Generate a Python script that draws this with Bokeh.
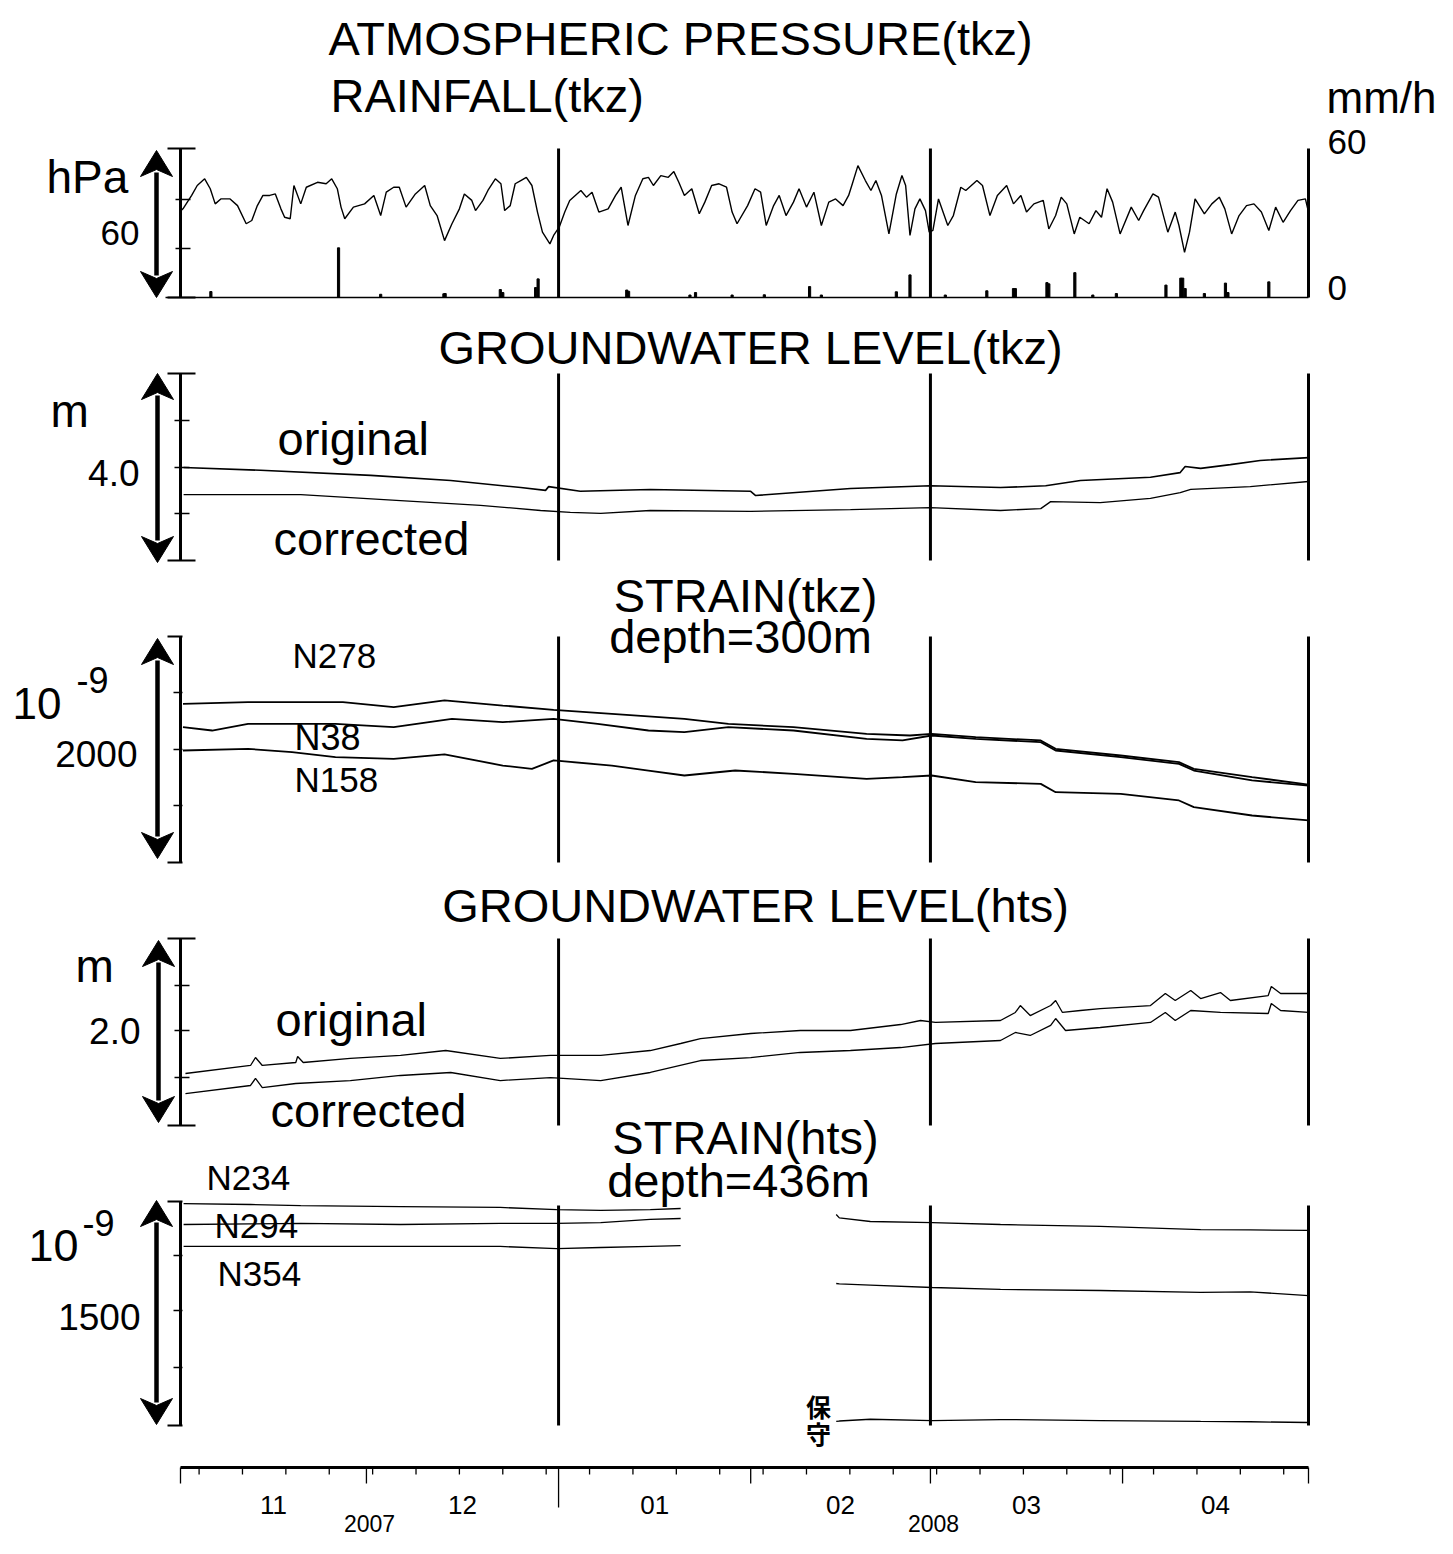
import numpy as np
import pandas as pd
from bokeh.plotting import figure
from bokeh.models import Range1d
from bokeh.core.properties import value
from bokeh.embed import file_html
from bokeh.resources import INLINE

# ---------------- data (days since 2007-11-01) ----------------
pres_days = [0.1, 0.4, 1.8, 2.7, 3.9, 4.8, 5.6, 6.5, 8.0, 9.2, 10.6, 11.5, 12.4, 13.3, 14.4, 15.3, 16.2, 16.8,
             17.7, 18.3, 19.4, 20.3, 22.1, 23.5, 24.4, 25.3, 25.9, 26.5, 27.9, 29.7, 31.2, 32.3, 33.2, 34.4, 35.3,
             36.4, 37.9, 39.4, 40.3, 41.4, 42.6, 43.8, 45.0, 45.8, 47.0, 47.6, 48.8, 49.6, 50.8, 51.7, 52.3, 53.2,
             54.0, 54.9, 55.8, 56.7, 57.6, 58.4, 59.6, 60.2, 61.1, 62.0, 62.8, 63.7, 64.6, 65.5, 66.4, 67.5, 69.0,
             70.2, 71.1, 72.2, 73.4, 74.6, 75.5, 76.3, 77.5, 78.7, 79.6, 80.4, 81.3, 82.5, 83.7, 84.6, 85.7, 86.9,
             88.1, 89.0, 89.8,
             91.5, 92.7, 93.6, 94.5, 95.7, 96.6, 97.7, 98.9, 99.8, 101.0, 102.2, 103.4, 104.6, 105.7, 106.9, 107.8,
             108.4, 109.3, 110.5, 111.4, 112.2, 113.1, 114.3, 115.5, 116.4, 117.0, 117.7, 118.5, 119.3, 120.2, 120.8,
             121.4, 122.3, 123.8, 124.7, 125.9, 126.7, 128.5, 129.4, 130.6, 131.8, 133.3, 134.4, 135.6, 136.5, 137.7,
             139.2, 140.1, 141.2, 142.1, 143.0, 144.2, 145.1, 146.6, 147.7, 148.6, 149.5, 150.4, 151.6, 153.4, 154.6,
             155.4, 156.9, 157.8, 159.3, 160.5, 161.1, 162.0, 162.8, 163.7, 165.2, 166.4, 167.6, 168.5, 169.6, 170.8,
             172.0, 173.2, 174.4, 175.6, 176.7, 177.9, 179.1, 180.3, 181.5, 182.0]
pres_hpa = [1015.0, 1015.7, 1021.1, 1025.1, 1027.8, 1023.8, 1017.7, 1019.7, 1019.7, 1017.0, 1009.7, 1011.0, 1017.0,
            1021.1, 1021.1, 1021.7, 1015.7, 1012.3, 1011.7, 1025.1, 1017.7, 1024.4, 1026.4, 1025.8, 1027.8, 1023.8,
            1016.4, 1011.7, 1016.4, 1017.7, 1021.1, 1013.0, 1022.4, 1024.4, 1024.4, 1016.4, 1021.7, 1025.1, 1017.0,
            1013.0, 1002.9, 1009.7, 1015.7, 1021.7, 1019.1, 1015.0, 1019.1, 1023.1, 1027.8, 1025.8, 1015.0, 1017.0,
            1025.8, 1027.1, 1028.4, 1025.1, 1014.4, 1006.3, 1001.6, 1005.0, 1008.3, 1014.4, 1019.1, 1021.1, 1023.1,
            1020.4, 1022.4, 1014.4, 1015.7, 1021.1, 1024.4, 1009.0, 1021.1, 1027.8, 1028.4, 1025.1, 1029.1, 1028.4,
            1030.7, 1026.4, 1021.1, 1023.8, 1013.7, 1018.4, 1025.1, 1025.8, 1024.4, 1014.4, 1009.7,
            1017.0, 1023.8, 1022.4, 1009.0, 1017.0, 1021.1, 1013.0, 1018.4, 1023.8, 1016.4, 1022.4, 1009.0, 1018.4,
            1019.7, 1017.0, 1021.1, 1025.8, 1033.1, 1027.1, 1023.1, 1027.1, 1021.1, 1005.6, 1021.7, 1029.1, 1025.1,
            1005.0, 1015.7, 1019.7, 1015.0, 1006.3, 1007.0, 1019.7, 1009.0, 1013.0, 1024.4, 1023.1, 1027.1, 1025.1,
            1013.0, 1021.1, 1025.1, 1017.7, 1021.1, 1014.4, 1017.7, 1019.1, 1007.6, 1013.0, 1020.4, 1017.7, 1005.6,
            1012.3, 1009.7, 1015.0, 1012.3, 1023.8, 1018.4, 1005.6, 1016.4, 1011.0, 1015.0, 1021.7, 1020.4, 1006.3,
            1014.4, 1009.0, 998.2, 1006.3, 1019.7, 1013.7, 1017.7, 1020.4, 1015.7, 1005.6, 1013.0, 1017.0, 1017.7,
            1014.4, 1007.0, 1016.4, 1010.3, 1015.0, 1019.1, 1019.7, 1014.4]

rain_days = [4.9, 25.5, 32.3, 42.5, 42.7, 51.6, 52.0, 57.3, 57.7, 72.0, 72.3, 82.2, 83.1, 89.0, 94.2, 101.5, 103.4,
             115.5, 117.7, 123.4, 130.1, 134.4, 134.7, 139.8, 140.1, 144.3, 147.2, 151.0, 159.0, 161.4, 161.7, 162.1,
             165.2, 168.6, 169.0, 175.6]
rain_mm = [2.4, 20.0, 1.3, 1.5, 1.6, 3.2, 2.0, 4.0, 7.5, 3.0, 2.5, 1.0, 2.0, 1.0, 1.1, 4.4, 1.0, 2.3, 9.1, 1.0, 2.7,
           3.6, 3.6, 6.0, 5.5, 10.0, 1.0, 1.6, 5.0, 7.8, 7.8, 3.6, 1.6, 5.8, 2.0, 6.3]

gwt_orig_days = [0.5, 12.9, 30.7, 43.6, 54.9, 58.9, 59.4, 64.5, 75.8, 92.0, 92.8, 108.1, 121.0, 132.3, 139.6, 145.2,
                 156.5, 161.3, 162.1, 164.6, 169.4, 174.2, 182.0]
gwt_orig_m = [1.99, 1.93, 1.82, 1.71, 1.56, 1.50, 1.58, 1.48, 1.52, 1.48, 1.39, 1.54, 1.60, 1.56, 1.60, 1.71, 1.78,
              1.88, 2.01, 1.97, 2.05, 2.14, 2.20]
gwt_corr_days = [0.5, 19.4, 35.5, 48.4, 58.1, 62.9, 67.8, 75.8, 92.0, 108.1, 121.0, 132.3, 138.8, 140.4, 148.4,
                 156.5, 161.3, 163.0, 172.6, 182.0]
gwt_corr_m = [1.41, 1.41, 1.28, 1.18, 1.07, 1.03, 1.01, 1.07, 1.05, 1.09, 1.13, 1.07, 1.11, 1.26, 1.24, 1.33, 1.45,
              1.52, 1.58, 1.69]

n278_days = [0.4, 10.9, 26.2, 34.4, 42.6, 52.0, 60.2, 69.6, 81.3, 88.4, 98.9, 110.7, 117.7, 121.2, 128.3, 138.8,
             141.2, 151.7, 161.1, 163.5, 172.9, 182.0]
n278 = [1404, 1419, 1419, 1375, 1434, 1389, 1351, 1316, 1271, 1227, 1198, 1139, 1124, 1139, 1109, 1080, 1006, 947,
        888, 829, 755, 690]
n38_days = [0.4, 5.1, 10.9, 16.8, 25.0, 34.4, 43.8, 52.0, 60.2, 67.3, 75.5, 81.3, 88.4, 98.9, 110.7, 116.5, 121.2,
            128.3, 138.8, 141.2, 151.7, 161.1, 163.5, 172.9, 182.0]
n38 = [1198, 1168, 1227, 1227, 1227, 1198, 1271, 1242, 1271, 1227, 1168, 1153, 1198, 1168, 1094, 1080, 1124, 1094,
       1065, 991, 932, 873, 814, 726, 681]
n158_days = [0.4, 10.9, 18.0, 25.0, 34.4, 42.6, 52.0, 56.7, 60.2, 69.6, 75.5, 81.3, 89.5, 98.9, 110.7, 116.5, 121.2,
             128.3, 138.8, 141.2, 151.7, 161.1, 163.5, 172.9, 182.0]
n158 = [991, 1006, 976, 932, 917, 956, 858, 829, 903, 858, 814, 770, 814, 785, 740, 755, 770, 711, 696, 622, 608,
        549, 490, 416, 372]

gwh_orig_days = [0.8, 11.3, 12.1, 13.2, 18.6, 18.9, 19.8, 27.4, 35.5, 42.8, 51.6, 59.7, 67.8, 75.8, 80.7, 83.9, 92.0,
                 100.0, 108.1, 116.2, 119.4, 121.8, 132.3, 134.7, 135.5, 137.1, 140.4, 141.2, 142.3, 145.2, 148.4,
                 156.5, 158.9, 160.5, 163.0, 164.6, 167.8, 169.4, 175.5, 176.0, 177.5, 182.0]
gwh_orig_m = [0.556, 0.642, 0.727, 0.642, 0.674, 0.738, 0.674, 0.717, 0.749, 0.802, 0.717, 0.749, 0.749, 0.802,
              0.877, 0.930, 0.984, 1.016, 1.016, 1.080, 1.123, 1.102, 1.123, 1.209, 1.283, 1.176, 1.283, 1.337,
              1.209, 1.230, 1.251, 1.283, 1.412, 1.337, 1.444, 1.358, 1.422, 1.337, 1.390, 1.487, 1.412, 1.412]
gwh_corr_days = [0.8, 11.3, 12.1, 13.2, 18.6, 27.4, 35.5, 43.6, 51.6, 59.7, 67.8, 75.8, 83.9, 92.0, 100.0, 108.1,
                 116.2, 121.8, 132.3, 134.7, 137.1, 140.4, 141.2, 142.8, 148.4, 156.5, 158.9, 160.5, 163.0, 167.8,
                 175.5, 176.0, 177.5, 182.0]
gwh_corr_m = [0.342, 0.428, 0.503, 0.406, 0.449, 0.481, 0.535, 0.567, 0.481, 0.513, 0.481, 0.567, 0.695, 0.727,
              0.781, 0.802, 0.834, 0.877, 0.909, 0.995, 0.963, 1.070, 1.144, 1.016, 1.048, 1.102, 1.209, 1.123,
              1.230, 1.209, 1.198, 1.305, 1.230, 1.209]

sth_days = [0.5, 11.3, 19.4, 35.5, 51.6, 60.7, 67.8, 75.8, 80.7, 93.0, 105.8, 106.3, 111.3, 121.3, 132.3, 148.4,
            164.6, 172.6, 182.0]
n234 = [1486, 1480, 1473, 1466, 1460, 1446, 1440, 1446, 1453, np.nan, 1413, 1390, 1366, 1359, 1346, 1333, 1312, 1310,
        1306]
n294 = [1346, 1350, 1353, 1346, 1353, 1353, 1359, 1380, 1386, np.nan, 951, 948, 940, 924, 911, 904, 891, 895, 870]
n354 = [1199, 1199, 1199, 1199, 1199, 1185, 1192, 1200, 1205, np.nan, 27, 30, 42, 33, 40, 33, 27, 25, 20]

month_starts = ["2007-11-01", "2007-12-01", "2008-01-01", "2008-02-01", "2008-03-01", "2008-04-01", "2008-05-01"]
month_labels = ["11", "12", "01", "02", "03", "04"]
year_labels = ["2007", "2008"]
year_spans = [("2007-11-01", "2008-01-01"), ("2008-01-01", "2008-05-01")]
panel_lines = ["2008-01-01", "2008-03-01", "2008-05-01"]

# ---------------- geometry (canvas pixels) ----------------
T0 = pd.Timestamp("2007-11-01")
T1 = pd.Timestamp("2008-05-01")
PX0, PX1, PY0, PY1 = 0, 1437, 0, 1538
XL, XR = 180, 1308
ppd = (XR - XL) / (T1 - T0).days


def t(days):
    return (T0 + pd.to_timedelta(np.asarray(days, dtype=float), unit="D")).to_numpy()


def band(v_top, v_bot, y_top, y_bot):
    s = (v_top - v_bot) / (y_bot - y_top)
    return Range1d(start=v_bot - (PY1 - y_bot) * s, end=v_top + (y_top - PY0) * s)


xr = Range1d(start=(T0 - pd.Timedelta(days=(XL - PX0) / ppd)).to_pydatetime(),
             end=(T1 + pd.Timedelta(days=(PX1 - XR) / ppd)).to_pydatetime())

p = figure(width=PX1 - PX0, height=PY1 - PY0, x_range=xr, y_range=Range1d(PY1, PY0),
           output_backend="svg", toolbar_location=None, min_border=0,
           x_axis_location=None, y_axis_location=None)
p.outline_line_color = None
p.background_fill_color = "white"
p.border_fill_color = "white"
for g in p.grid:
    g.visible = False

p.extra_x_ranges = {"px": Range1d(PX0, PX1)}
p.extra_y_ranges = {
    "pres": band(1040, 980, 148, 297),
    "rain": band(60, 0, 148, 297),
    "gwt": band(4.0, 0.0, 373, 560),
    "stt": band(2000, 0, 636, 862),
    "gwh": band(2.0, 0.0, 938, 1125),
    "sth": band(1500, 0, 1201, 1425),
}

FONT = value("Liberation Sans")


def txt(x, y, s, size, align="left", font=FONT, style="normal"):
    p.text(x=[x], y=[y], text=[s], x_range_name="px", text_font=font, text_font_size=f"{size}px",
           text_align=align, text_baseline="middle", text_color="black", text_font_style=style)


def seg(x0, y0, x1, y1, w=2):
    p.segment(x0=[x0], y0=[y0], x1=[x1], y1=[y1], x_range_name="px", line_color="black", line_width=w)


def arrow(xc, y0, y1, hw=16, hl=26):
    p.segment(x0=[xc], y0=[y0 + hl - 4], x1=[xc], y1=[y1 - hl + 4], x_range_name="px",
              line_color="black", line_width=4.5)
    p.patches(xs=[[xc - hw, xc, xc + hw, xc], [xc - hw, xc, xc + hw, xc]],
              ys=[[y0 + hl, y0, y0 + hl, y0 + hl - 7], [y1 - hl, y1, y1 - hl, y1 - hl + 7]],
              x_range_name="px", fill_color="black", line_color="black")


def bracket(top, bot, ticks, cl, cr, tl, tr):
    seg(XL, top, XL, bot, 3)
    seg(cl, top, cr, top, 2)
    seg(cl, bot, cr, bot, 2)
    for y in ticks:
        seg(tl, y, tr, y, 1.6)


# ---------------- panel 1: pressure & rainfall ----------------
txt(328, 38, "ATMOSPHERIC PRESSURE(tkz)", 47)
txt(330, 95, "RAINFALL(tkz)", 47)
txt(1436, 97, "mm/h", 44, align="right")
txt(1327, 141, "60", 35)
txt(1327, 287, "0", 35)
txt(46, 176, "hPa", 46)
txt(139, 232, "60", 35, align="right")
bracket(148, 297, [199, 248], 167, 195, 175, 190)
seg(165, 297, XR, 297, 1.6)
arrow(156, 150, 297)
p.vbar(x=t(rain_days), top=rain_mm, bottom=0, width=0.35 * 86400000, y_range_name="rain",
       color="black")
p.line(t(pres_days), pres_hpa, y_range_name="pres", color="black", line_width=1.4)

# ---------------- panel 2: groundwater tkz ----------------
txt(750, 347, "GROUNDWATER LEVEL(tkz)", 47, align="center")
txt(50, 410, "m", 46)
txt(139, 472, "4.0", 37, align="right")
txt(277, 438, "original", 47)
txt(273, 538, "corrected", 47)
bracket(373, 560, [420, 467, 513], 167, 195, 174, 189)
arrow(157, 373, 562)
p.line(t(gwt_orig_days), gwt_orig_m, y_range_name="gwt", color="black", line_width=1.6)
p.line(t(gwt_corr_days), gwt_corr_m, y_range_name="gwt", color="black", line_width=1.3)

# ---------------- panel 3: strain tkz ----------------
txt(745, 595, "STRAIN(tkz)", 47, align="center")
txt(740, 636, "depth=300m", 47, align="center")
txt(12, 703, "10", 44)
txt(76, 679, "-9", 36)
txt(137, 753, "2000", 37, align="right")
txt(292, 655, "N278", 35)
txt(294, 737, "N38", 36)
txt(294, 779, "N158", 35)
bracket(636, 862, [692, 749, 805], 167, 182, 173, 182)
arrow(157, 638, 858)
for d, v in ((n278_days, n278), (n38_days, n38), (n158_days, n158)):
    p.line(t(d), v, y_range_name="stt", color="black", line_width=1.8)

# ---------------- panel 4: groundwater hts ----------------
txt(755, 905, "GROUNDWATER LEVEL(hts)", 47, align="center")
txt(75, 965, "m", 46)
txt(140, 1030, "2.0", 37, align="right")
txt(275, 1019, "original", 47)
txt(270, 1110, "corrected", 47)
bracket(938, 1125, [985, 1030, 1077], 167, 195, 174, 189)
arrow(158, 940, 1122)
p.line(t(gwh_orig_days), gwh_orig_m, y_range_name="gwh", color="black", line_width=1.3)
p.line(t(gwh_corr_days), gwh_corr_m, y_range_name="gwh", color="black", line_width=1.3)

# ---------------- panel 5: strain hts ----------------
txt(745, 1137, "STRAIN(hts)", 47, align="center")
txt(738, 1180, "depth=436m", 47, align="center")
txt(28, 1245, "10", 45)
txt(82, 1222, "-9", 36)
txt(140, 1316, "1500", 37, align="right")
txt(206, 1177, "N234", 35)
txt(214, 1225, "N294", 35)
txt(217, 1273, "N354", 35)
bracket(1201, 1425, [1255, 1310, 1367], 167, 182, 173, 182)
arrow(156, 1200, 1424)
for v in (n234, n294, n354):
    p.line(t(sth_days), v, y_range_name="sth", color="black", line_width=1.3)
cjk = value("Noto Sans CJK JP")
txt(818, 1405, "保", 25, align="center", font=cjk, style="bold")
txt(818, 1432, "守", 25, align="center", font=cjk, style="bold")

# ---------------- panel separators (Jan 1, Mar 1, May 1) ----------------
spans = [(148, 297), (373, 560), (636, 862), (938, 1125), (1205, 1425)]
lx, ly0, ly1 = [], [], []
for d in panel_lines:
    for a, b in spans:
        lx.append(pd.Timestamp(d))
        ly0.append(a)
        ly1.append(b)
lx = pd.DatetimeIndex(lx).to_numpy()
p.segment(x0=lx, y0=ly0, x1=lx, y1=ly1, line_color="black", line_width=3)

# ---------------- bottom time axis ----------------
AY = 1467
seg(XL, AY, XR, AY, 3.2)
ms = pd.DatetimeIndex(month_starts)
weeks = pd.date_range("2007-11-04", "2008-04-30", freq="7D")
p.segment(x0=weeks.to_numpy(), y0=[AY] * len(weeks), x1=weeks.to_numpy(), y1=[AY + 7] * len(weeks),
          line_color="black", line_width=1.3)
mlen = [AY + 16 if m != pd.Timestamp("2008-01-01") else AY + 40 for m in ms]
p.segment(x0=ms.to_numpy(), y0=[AY] * len(ms), x1=ms.to_numpy(), y1=mlen, line_color="black", line_width=1.3)
mids = (ms[:-1] + (ms[1:] - ms[:-1]) / 2).to_numpy()
narrow = value("Liberation Sans Narrow, Liberation Sans")
p.text(x=mids, y=[1504] * len(mids), text=month_labels, text_font=narrow, text_font_size="26px",
       text_align="center", text_baseline="middle", text_color="black")
ymids = [pd.Timestamp(a) + (pd.Timestamp(b) - pd.Timestamp(a)) / 2 for a, b in year_spans]
p.text(x=pd.DatetimeIndex(ymids).to_numpy(), y=[1523, 1523], text=year_labels, text_font=narrow,
       text_font_size="23px", text_align="center", text_baseline="middle", text_color="black")

open("out.html", "w").write(file_html(p, INLINE))
